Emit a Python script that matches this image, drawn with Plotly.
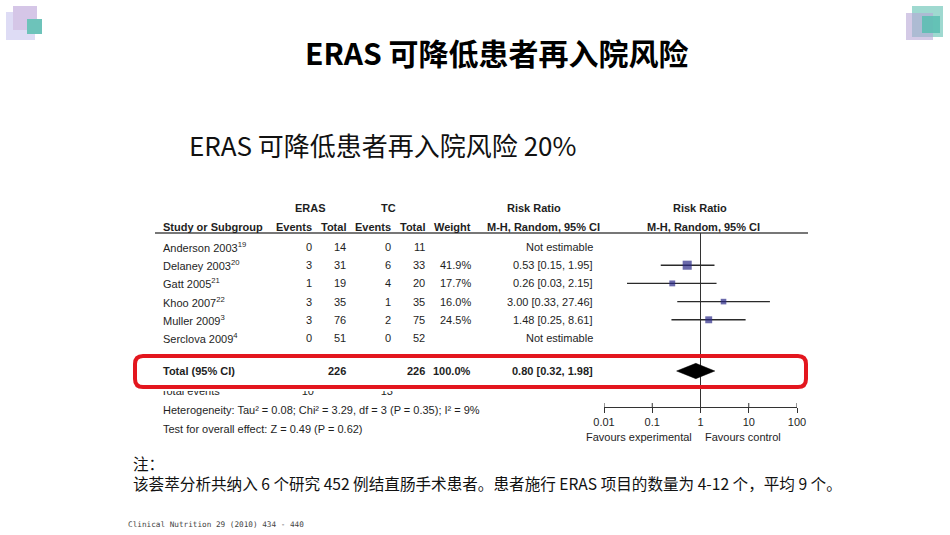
import math
import plotly.graph_objects as go

# ---------------- data ----------------
studies = ["Anderson 2003", "Delaney 2003", "Gatt 2005", "Khoo 2007", "Muller 2009", "Serclova 2009"]
study_refs = ["19", "20", "21", "22", "3", "4"]
eras_events = [0, 3, 1, 3, 3, 0]
eras_total = [14, 31, 19, 35, 76, 51]
tc_events = [0, 6, 4, 1, 2, 0]
tc_total = [11, 33, 20, 35, 75, 52]
weights = [None, 41.9, 17.7, 16.0, 24.5, None]
rr = [None, 0.53, 0.26, 3.00, 1.48, None]
rr_low = [None, 0.15, 0.03, 0.33, 0.25, None]
rr_high = [None, 1.95, 2.15, 27.46, 8.61, None]
total_eras_n = 226
total_tc_n = 226
total_weight = 100.0
total_eras_events = 10
total_tc_events = 13
pooled_rr = [0.80, 0.32, 1.98]
heterogeneity_text = "Heterogeneity: Tau² = 0.08; Chi² = 3.29, df = 3 (P = 0.35); I² = 9%"
overall_text = "Test for overall effect: Z = 0.49 (P = 0.62)"
axis_ticks = [0.01, 0.1, 1, 10, 100]
axis_tick_labels = ["0.01", "0.1", "1", "10", "100"]

title_text = "ERAS 可降低患者再入院风险"
subtitle_text = "ERAS 可降低患者再入院风险 20%"
note_head = "注："
note_text = "该荟萃分析共纳入 6 个研究 452 例结直肠手术患者。患者施行 ERAS 项目的数量为 4-12 个，平均 9 个。"
source_text = "Clinical Nutrition 29 (2010) 434 - 440"

# ---------------- layout helpers ----------------
W, H = 950, 535
ROW0, ROWH = 247.0, 18.2          # pixel y of first study row and row pitch
def row_of(py):                   # pixel -> row units
    return (py - ROW0) / ROWH
def pfy(py):                      # pixel -> paper y
    return 1 - py / H
def pfx(px):
    return px / W

TF = "Liberation Sans, Arial, sans-serif"
TS = 11
CJK = "Noto Sans CJK SC, sans-serif"
TXT = "#1e1e1e"

annotations = []
def ann(x, row, text, anchor="left", size=TS, color=TXT, font=TF):
    annotations.append(dict(x=x, y=row, xref="x", yref="y", text=text, showarrow=False,
                            xanchor=anchor, yanchor="middle",
                            font=dict(family=font, size=size, color=color)))

# column right edges (pixels)
C_NAME, C_EE, C_ET, C_TE, C_TT, C_W, C_RR = 161, 314, 348, 393, 427, 473, 595
R_H1, R_H2 = row_of(208), row_of(227)
R_TOTAL = row_of(371)
R_EVENTS = row_of(392)
R_HET, R_TEST = row_of(410), row_of(429)

# headers
ann(310, R_H1, "<b>ERAS</b>", "center")
ann(388, R_H1, "<b>TC</b>", "center")
ann(534, R_H1, "<b>Risk Ratio</b>", "center")
ann(700, R_H1, "<b>Risk Ratio</b>", "center")
ann(C_NAME, R_H2, "<b>Study or Subgroup</b>", "left")
ann(C_EE, R_H2, "<b>Events</b>", "right")
ann(C_ET, R_H2, "<b>Total</b>", "right")
ann(C_TE, R_H2, "<b>Events</b>", "right")
ann(C_TT, R_H2, "<b>Total</b>", "right")
ann(C_W, R_H2, "<b>Weight</b>", "right")
ann(543, R_H2, "<b>M-H, Random, 95% CI</b>", "center")
ann(703, R_H2, "<b>M-H, Random, 95% CI</b>", "center")

# study rows
for i, name in enumerate(studies):
    ann(C_NAME, i, f"{name}<sup>{study_refs[i]}</sup>", "left")
    ann(C_EE, i, str(eras_events[i]), "right")
    ann(C_ET, i, str(eras_total[i]), "right")
    ann(C_TE, i, str(tc_events[i]), "right")
    ann(C_TT, i, str(tc_total[i]), "right")
    if weights[i] is not None:
        ann(C_W, i, f"{weights[i]:.1f}%", "right")
        ann(C_RR, i, f"{rr[i]:.2f} [{rr_low[i]:.2f}, {rr_high[i]:.2f}]", "right")
    else:
        ann(C_RR, i, "Not estimable", "right")

# total row
ann(C_NAME, R_TOTAL, "<b>Total (95% CI)</b>", "left")
ann(C_ET, R_TOTAL, f"<b>{total_eras_n}</b>", "right")
ann(C_TT, R_TOTAL, f"<b>{total_tc_n}</b>", "right")
ann(C_W, R_TOTAL, f"<b>{total_weight:.1f}%</b>", "right")
ann(C_RR, R_TOTAL, f"<b>{pooled_rr[0]:.2f} [{pooled_rr[1]:.2f}, {pooled_rr[2]:.2f}]</b>", "right")

ann(C_NAME, R_HET, heterogeneity_text, "left")
ann(C_NAME, R_TEST, overall_text, "left")

# favours labels
ann(639, row_of(437), "Favours experimental", "center")
ann(743, row_of(437), "Favours control", "center")

# page texts (paper)
def pann(px, py, text, anchor, size, color, font, bold=False):
    annotations.append(dict(x=pfx(px), y=pfy(py), xref="paper", yref="paper",
                            text=f"<b>{text}</b>" if bold else text, showarrow=False,
                            xanchor=anchor, yanchor="middle", align="left",
                            font=dict(family=font, size=size, color=color)))
pann(496, 52, title_text, "center", 30, "#000000", CJK, bold=True)
pann(187, 145, subtitle_text, "left", 26, "#111111", CJK)
pann(131, 472.5, note_head + "<br>" + note_text, "left", 15.6, "#111111", CJK)
pann(126, 524, source_text, "left", 7.7, "#444444", "DejaVu Sans Mono, Liberation Mono, monospace")

fig = go.Figure()

# partially hidden "Total events" line (drawn as trace so the shape can cover it)
fig.add_trace(go.Scatter(x=[C_NAME], y=[R_EVENTS], mode="text", text=["Total events"],
                         textposition="middle right", xaxis="x", yaxis="y",
                         textfont=dict(family=TF, size=TS, color=TXT), hoverinfo="skip",
                         showlegend=False))
fig.add_trace(go.Scatter(x=[C_EE, C_TE], y=[R_EVENTS, R_EVENTS], mode="text",
                         text=[str(total_eras_events), str(total_tc_events)],
                         textposition="middle left", xaxis="x", yaxis="y",
                         textfont=dict(family=TF, size=TS, color=TXT), hoverinfo="skip",
                         showlegend=False))

# line of no effect
fig.add_trace(go.Scatter(x=[1, 1], y=[row_of(233), row_of(407)], mode="lines",
                         line=dict(color="#333333", width=1), xaxis="x2", yaxis="y",
                         hoverinfo="skip", showlegend=False))

# upper halves of the axis tick marks (ticks cross the axis line)
tx, ty = [], []
for t in axis_ticks:
    tx += [t, t, None]
    ty += [row_of(403), row_of(407), None]
fig.add_trace(go.Scatter(x=tx, y=ty, mode="lines", line=dict(color="#333333", width=1),
                         xaxis="x2", yaxis="y", hoverinfo="skip", showlegend=False))

# CI whiskers
cx, cy = [], []
for i in range(len(studies)):
    if rr[i] is not None:
        cx += [rr_low[i], rr_high[i], None]
        cy += [i, i, None]
fig.add_trace(go.Scatter(x=cx, y=cy, mode="lines", line=dict(color="#2a2a2a", width=1.4),
                         xaxis="x2", yaxis="y", hoverinfo="skip", showlegend=False))

# squares
idx = [i for i in range(len(studies)) if rr[i] is not None]
fig.add_trace(go.Scatter(x=[rr[i] for i in idx], y=idx, mode="markers",
                         marker=dict(symbol="square", color="#2b2a88",
                                     size=[1.4 * math.sqrt(weights[i]) for i in idx],
                                     line=dict(width=0)),
                         xaxis="x2", yaxis="y", hoverinfo="skip", showlegend=False))

# pooled diamond
hh = 0.42
fig.add_trace(go.Scatter(x=[pooled_rr[1], pooled_rr[0], pooled_rr[2], pooled_rr[0], pooled_rr[1]],
                         y=[R_TOTAL, R_TOTAL - hh, R_TOTAL, R_TOTAL + hh, R_TOTAL],
                         mode="lines", fill="toself", fillcolor="#000000",
                         line=dict(color="#000000", width=0.5),
                         xaxis="x2", yaxis="y", hoverinfo="skip", showlegend=False))

shapes = []
# header rule
shapes.append(dict(type="line", xref="paper", yref="paper", x0=pfx(155), x1=pfx(808),
                   y0=pfy(233), y1=pfy(233), line=dict(color="#777777", width=2), layer="below"))
# white cover over top half of "Total events"
shapes.append(dict(type="rect", xref="paper", yref="paper", x0=pfx(150), x1=pfx(480),
                   y0=pfy(386), y1=pfy(391), fillcolor="#ffffff", line=dict(width=0), layer="above"))
# red rounded highlight box
x0, x1, y0, y1, r = 135, 806, 356, 387, 8
pts = [(x0 + r, y0), (x1 - r, y0), (x1, y0), (x1, y0 + r), (x1, y1 - r), (x1, y1), (x1 - r, y1),
       (x0 + r, y1), (x0, y1), (x0, y1 - r), (x0, y0 + r), (x0, y0)]
def P(p):
    return f"{pfx(p[0]):.5f},{pfy(p[1]):.5f}"
path = (f"M {P(pts[0])} L {P(pts[1])} Q {P(pts[2])} {P(pts[3])} L {P(pts[4])} "
        f"Q {P(pts[5])} {P(pts[6])} L {P(pts[7])} Q {P(pts[8])} {P(pts[9])} "
        f"L {P(pts[10])} Q {P(pts[11])} {P(pts[0])} Z")
shapes.append(dict(type="path", xref="paper", yref="paper", path=path,
                   line=dict(color="#e3161e", width=4), fillcolor="rgba(0,0,0,0)", layer="above"))

# corner decorations
def deco(xa, xb, ya, yb, color, op=1.0):
    shapes.append(dict(type="rect", xref="paper", yref="paper", x0=pfx(xa), x1=pfx(xb),
                       y0=pfy(ya), y1=pfy(yb), fillcolor=color, opacity=op,
                       line=dict(width=0), layer="below"))
deco(6, 35, 12, 40, "#dedcf5")
deco(13, 37, 6, 30, "#d5c6e7")
deco(27, 42, 19, 34, "#6dc3ba")
deco(912, 943, 6, 37, "#9fd9d0")
deco(906, 933, 13, 40, "#b8a6d6", 0.6)
deco(922, 940, 16, 33, "#5dbfb2", 0.9)

fig.update_layout(
    width=W, height=H, autosize=False,
    margin=dict(l=0, r=0, t=0, b=0, pad=0, autoexpand=False),
    paper_bgcolor="#ffffff", plot_bgcolor="rgba(0,0,0,0)",
    showlegend=False,
    xaxis=dict(range=[0, W], domain=[0, 1], visible=False, fixedrange=True),
    yaxis=dict(range=[row_of(H), row_of(0)], domain=[0, 1], visible=False, fixedrange=True),
    xaxis2=dict(type="log", range=[-2, 2], domain=[pfx(604), pfx(797)], anchor="free",
                position=pfy(407), showline=True, linecolor="#333333", linewidth=1,
                ticks="outside", ticklen=5, tickwidth=1, tickcolor="#333333",
                tickvals=axis_ticks, ticktext=axis_tick_labels, showgrid=False, zeroline=False,
                tickfont=dict(family=TF, size=TS, color=TXT), fixedrange=True),
    annotations=annotations,
    shapes=shapes,
)

fig.write_html("out.html", config={"displayModeBar": False},
               post_script="document.body.style.margin='0px';")
